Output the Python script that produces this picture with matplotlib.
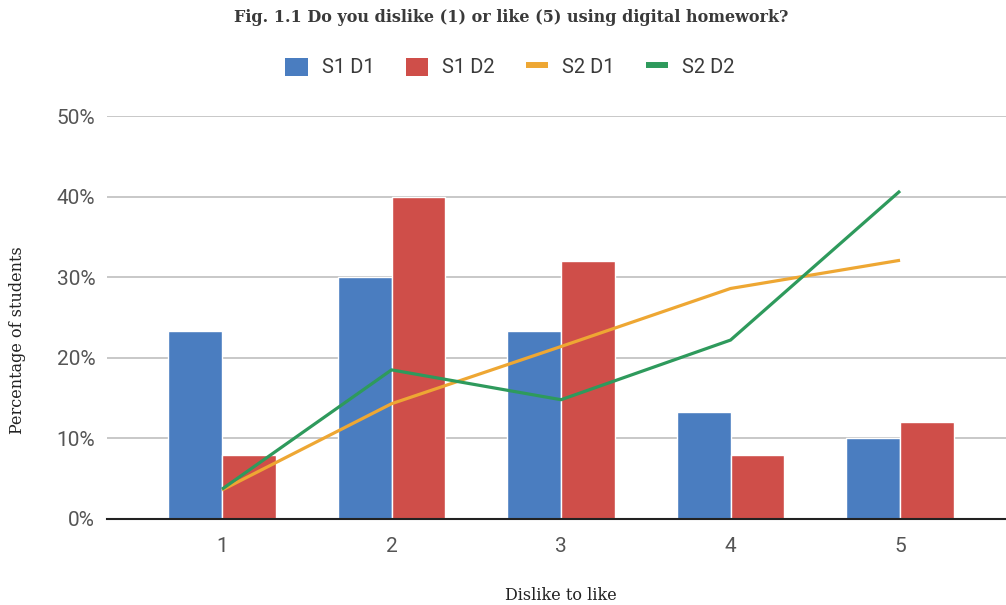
import matplotlib
matplotlib.use("Agg")
import matplotlib.pyplot as plt
from matplotlib.patches import Patch
from matplotlib.lines import Line2D
from matplotlib.ticker import PercentFormatter
import numpy as np

# Survey responses (share of students per rating)
categories = [1, 2, 3, 4, 5]
s1_d1 = [23.3, 30.0, 23.3, 13.3, 10.0]
s1_d2 = [8.0, 40.0, 32.0, 8.0, 12.0]
s2_d1 = [3.6, 14.3, 21.4, 28.6, 32.1]
s2_d2 = [3.7, 18.5, 14.8, 22.2, 40.7]
y_ticks = [0, 10, 20, 30, 40, 50]

BLUE = "#4a7dc0"
RED = "#cf4e49"
ORANGE = "#eea733"
GREEN = "#2e9a5c"
TICK_GRAY = "#555555"
TEXT_DARK = "#3a3a3a"

fig = plt.figure(figsize=(10.06, 6.05), dpi=100)
ax = fig.add_axes([107 / 1006, 1 - 519 / 605, 1 - 107 / 1006, (519 - 116) / 605])

x = np.array(categories, dtype=float)
w = 0.318
ax.bar(x, s1_d1, width=-w, align="edge", color=BLUE, edgecolor="white", linewidth=1, zorder=3)
ax.bar(x, s1_d2, width=w, align="edge", color=RED, edgecolor="white", linewidth=1, zorder=3)
ax.plot(x, s2_d1, color=ORANGE, lw=2.3, zorder=4, solid_capstyle="butt")
ax.plot(x, s2_d2, color=GREEN, lw=2.3, zorder=5, solid_capstyle="butt")

ax.set_xlim(0.3215, 5.625)
ax.set_ylim(0, 50)
ax.set_yticks(y_ticks)
ax.yaxis.set_major_formatter(PercentFormatter(decimals=0))
ax.set_xticks(categories)
ax.set_xticklabels([str(c) for c in categories])
ax.grid(axis="y", color="#c4c4c4", lw=1.3, zorder=0)
ax.set_axisbelow(True)
for side in ["top", "right", "left"]:
    ax.spines[side].set_visible(False)
ax.spines["bottom"].set_color("#222222")
ax.spines["bottom"].set_linewidth(1.5)
ax.spines["bottom"].set_zorder(6)
ax.tick_params(axis="both", length=0, labelsize=15, labelcolor=TICK_GRAY)
ax.tick_params(axis="y", pad=8.5)
ax.tick_params(axis="x", pad=13)
for lbl in ax.get_xticklabels() + ax.get_yticklabels():
    lbl.set_fontfamily("Roboto")

fig.text(0.508, 1 - 18 / 605, "Fig. 1.1 Do you dislike (1) or like (5) using digital homework?",
         ha="center", va="center", fontsize=11.5, fontweight="bold",
         family="DejaVu Serif", color=TEXT_DARK)
fig.text(561 / 1006, 1 - 596 / 605, "Dislike to like", ha="center", va="center",
         fontsize=11.5, family="DejaVu Serif", color="#222222")
fig.text(18 / 1006, 1 - 340 / 605, "Percentage of students", ha="center", va="center",
         rotation=90, fontsize=11.5, family="DejaVu Serif", color="#222222")

handles = [
    Patch(facecolor=BLUE, edgecolor="none"),
    Patch(facecolor=RED, edgecolor="none"),
    Line2D([], [], color=ORANGE, lw=4.3, solid_capstyle="butt"),
    Line2D([], [], color=GREEN, lw=4.3, solid_capstyle="butt"),
]
fig.legend(handles, ["S1 D1", "S1 D2", "S2 D1", "S2 D2"], loc="center",
           bbox_to_anchor=(510 / 1006, 1 - 67.5 / 605), ncol=4, frameon=False,
           prop={"family": "Roboto", "size": 14.5}, labelcolor=TEXT_DARK,
           handlelength=1.1, handleheight=1.0, handletextpad=0.7, columnspacing=1.55)

fig.savefig("out.png", dpi=100, facecolor="white")
